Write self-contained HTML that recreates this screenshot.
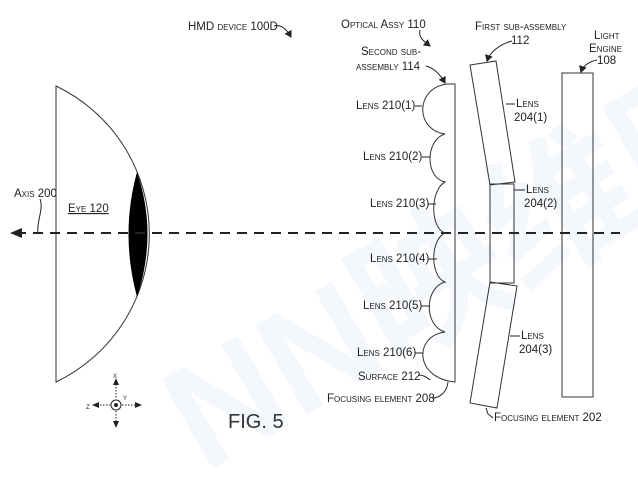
<!DOCTYPE html>
<html><head><meta charset="utf-8"><style>
html,body{margin:0;padding:0;background:#fff;}
svg{display:block;}
text{font-family:"Liberation Sans","Noto Sans CJK SC",sans-serif;font-size:11.5px;fill:#222;font-variant:small-caps;}
</style></head><body>
<svg width="638" height="491" viewBox="0 0 638 491" xmlns="http://www.w3.org/2000/svg">
<defs>
<marker id="ah" markerWidth="8" markerHeight="8" refX="6" refY="4" orient="auto" markerUnits="userSpaceOnUse"><path d="M0,0 L7,4 L0,8 Z" fill="#222"/></marker>
</defs>
<g opacity="0.05">
<text x="120" y="400" transform="rotate(-30 300 280)" style="font-size:150px;font-weight:bold;fill:#3a78c8;font-variant:normal">NN映维网</text>
</g>
<path d="M56,86 L56,382 A164,164 0 0 0 56,86 Z" fill="none" stroke="#333" stroke-width="1"/>
<path d="M137,172 Q120,234 137,297 Q158,234 137,172 Z" fill="#000"/>
<line x1="16" y1="233" x2="620" y2="233" stroke="#222" stroke-width="2" stroke-dasharray="10,7"/>
<path d="M10,233 L22,228 L22,238 Z" fill="#222"/>
<path d="M455,84 L447,84 C415,88 415,130 445,134 C425,140 425,178 445,182 C430,190 430,228 445,233 C430,240 430,276 445,282 C424,288 424,326 445,332 C414,336 414,378 455,382 Z" fill="none" stroke="#333" stroke-width="1"/>
<polygon points="470,65 496,61 515,182 490,185" fill="none" stroke="#333"/>
<rect x="490" y="184" width="24" height="99" fill="none" stroke="#333"/>
<polygon points="490,282 517,286 497,408 470,403" fill="none" stroke="#333"/>
<rect x="562" y="73" width="31" height="324" fill="none" stroke="#333"/>
<text x="188" y="30">HMD device 100D</text>
<path d="M274,26 C282,24 287,30 291,37" fill="none" stroke="#222" marker-end="url(#ah)"/>
<text x="341" y="28">Optical Assy 110</text>
<path d="M420,30 C418,38 425,42 430,46" fill="none" stroke="#222" marker-end="url(#ah)"/>
<text x="361" y="55">Second sub-</text>
<text x="356" y="70">assembly 114</text>
<path d="M426,66 C434,68 440,74 445,83" fill="none" stroke="#222" marker-end="url(#ah)"/>
<text x="475" y="30">First sub-assembly</text>
<text x="511" y="44">112</text>
<path d="M512,41 C500,44 490,52 487,61" fill="none" stroke="#222" marker-end="url(#ah)"/>
<text x="594" y="39">Light</text>
<text x="589" y="52">Engine</text>
<text x="597" y="64">108</text>
<path d="M597,60 C588,62 583,66 581,72" fill="none" stroke="#222" marker-end="url(#ah)"/>
<text x="356" y="109">Lens 210(1)</text><line x1="415" y1="106" x2="422" y2="106" stroke="#222"/>
<text x="363" y="160">Lens 210(2)</text><line x1="422" y1="157" x2="430" y2="157" stroke="#222"/>
<text x="370" y="207">Lens 210(3)</text><line x1="428" y1="204" x2="436" y2="204" stroke="#222"/>
<text x="370" y="262">Lens 210(4)</text><line x1="428" y1="259" x2="437" y2="259" stroke="#222"/>
<text x="363" y="309">Lens 210(5)</text><line x1="421" y1="306" x2="430" y2="306" stroke="#222"/>
<text x="357" y="356">Lens 210(6)</text><line x1="415" y1="353" x2="423" y2="353" stroke="#222"/>
<text x="358" y="380">Surface 212</text><path d="M418,375 C424,375 428,378 430,380" fill="none" stroke="#222"/>
<text x="327" y="402">Focusing element 208</text><path d="M432,398 C440,398 447,392 448,382" fill="none" stroke="#222"/>
<text x="516" y="107">Lens</text><text x="514" y="121">204(1)</text><line x1="506" y1="104" x2="515" y2="104" stroke="#222"/>
<text x="526" y="193">Lens</text><text x="524" y="207">204(2)</text><line x1="514" y1="190" x2="525" y2="190" stroke="#222"/>
<text x="521" y="339">Lens</text><text x="519" y="353">204(3)</text><line x1="510" y1="336" x2="520" y2="336" stroke="#222"/>
<text x="494" y="421">Focusing element 202</text><path d="M486,408 L488,414 L493,418" fill="none" stroke="#222"/>
<text x="14" y="197">Axis 200</text>
<path d="M40,199 C44,210 36,222 38,233" fill="none" stroke="#222"/>
<text x="68" y="212" style="text-decoration:underline">Eye 120</text>
<g stroke="#222" stroke-dasharray="1.5,1.5">
<line x1="116" y1="384" x2="116" y2="399"/><line x1="116" y1="411" x2="116" y2="426"/>
<line x1="94" y1="405" x2="110" y2="405"/><line x1="122" y1="405" x2="139" y2="405"/>
</g>
<path d="M116,378 L113,385 L119,385 Z M116,428 L113,421 L119,421 Z M92,405 L99,402 L99,408 Z M142,405 L135,402 L135,408 Z" fill="#222"/>
<circle cx="116" cy="405" r="5" fill="none" stroke="#222"/><circle cx="116" cy="405" r="2" fill="#222"/>
<text x="113" y="378" style="font-size:9px">x</text>
<text x="86" y="409" style="font-size:9px">z</text>
<text x="123" y="400" style="font-size:9px">y</text>
<text x="228" y="428" style="font-size:20px;font-variant:normal;fill:#333">FIG. 5</text>
</svg>
</body></html>
